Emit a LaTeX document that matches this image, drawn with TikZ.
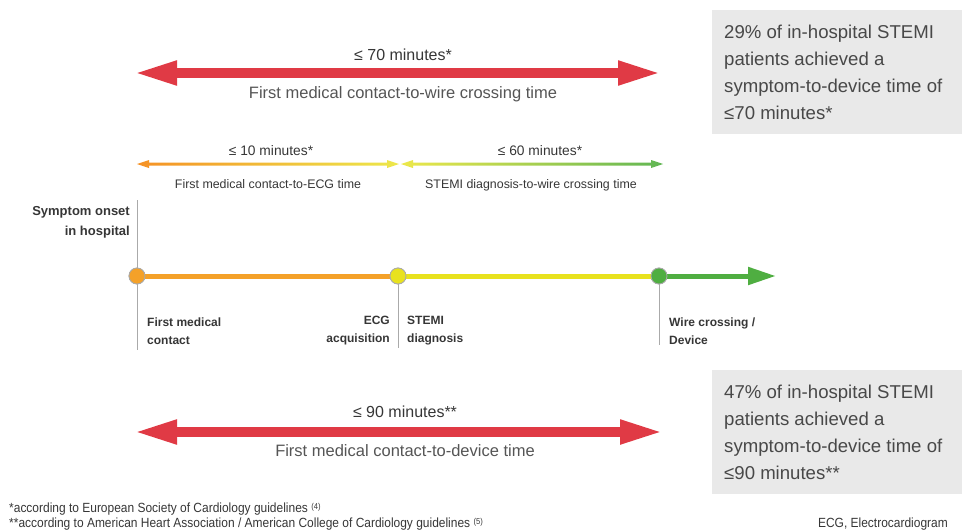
\documentclass[tikz,border=0pt]{standalone}
\usepackage{fontspec}
\setmainfont{Liberation Sans}
\newfontfamily\narrowfont[FakeStretch=0.9]{Liberation Sans}
\usetikzlibrary{arrows.meta, positioning, calc}

\definecolor{stemired}{HTML}{E03A45}
\definecolor{fmcorange}{HTML}{F4A129}
\definecolor{ecgyellow}{HTML}{E8E21E}
\definecolor{wiregreen}{HTML}{4FAE41}
\definecolor{textdark}{HTML}{363636}
\definecolor{textmid}{HTML}{555555}
\definecolor{tickgray}{HTML}{AAAAAA}
\definecolor{boxgray}{HTML}{E9E9E9}

\begin{document}
\begin{tikzpicture}[x=1pt, y=-1pt,
		txt/.style={inner sep=0pt, text=textdark},
		bigarrow/.style={draw=stemired, line width=10pt,
			arrows={Triangle[length=44pt,width=22pt]-Triangle[length=44pt,width=22pt]}},
		tick/.style={draw=tickgray, line width=1pt},
		event/.style={circle, draw=tickgray, line width=0.8pt, minimum size=16pt, inner sep=0pt},
		evlabel/.style={txt, font=\fontsize{12}{18}\selectfont\bfseries},
		statbox/.style={txt, text=textmid!85!black, align=left, anchor=north west, font=\fontsize{18.6}{27}\selectfont},
		note/.style={inner sep=0pt, text=textdark, anchor=base west, font=\narrowfont\fontsize{13.3}{14}\selectfont}]
	
	\useasboundingbox (0,0) rectangle (962,530);
	
	% Caixas de resultado
	\fill[boxgray] (712,10) rectangle (962,134);
	\fill[boxgray] (712,370) rectangle (962,494);
	\node[statbox] (stat70) at (724,25) {29\% of in-hospital STEMI\\patients achieved a\\symptom-to-device time of\\≤70 minutes*};
	\node[statbox] (stat90) at (724,385) {47\% of in-hospital STEMI\\patients achieved a\\symptom-to-device time of\\≤90 minutes**};
	
	% Seta superior (FMC -> wire)
	\coordinate (top_l) at (133,73);
	\coordinate (top_r) at (662,73);
	\draw[bigarrow] (top_l) -- (top_r);
	\node[txt, font=\fontsize{16}{18}\selectfont] (t70) at (403,55) {≤ 70 minutes*};
	\node[txt, text=textmid, font=\fontsize{16.5}{18}\selectfont] (t70_s) at (403,94) {First medical contact-to-wire crossing time};
	
	% Setas intermediárias (gradiente)
	\coordinate (mid_l) at (137,164);
	\coordinate (mid_m) at (399,164);
	\coordinate (mid_n) at (401,164);
	\coordinate (mid_r) at (663,164);
	\shade[left color=fmcorange!90!red, right color=ecgyellow!80!white]
		(mid_l) -- ++(12,-4) -- ++(0,2.5) -- ($(mid_m)+(-12,-1.5)$) -- ++(0,-2.5) -- (mid_m)
		-- ++(-12,4) -- ++(0,-2.5) -- ($(mid_l)+(12,1.5)$) -- ++(0,2.5) -- cycle;
	\shade[left color=ecgyellow!80!white, right color=wiregreen!90!white]
		(mid_n) -- ++(12,-4) -- ++(0,2.5) -- ($(mid_r)+(-12,-1.5)$) -- ++(0,-2.5) -- (mid_r)
		-- ++(-12,4) -- ++(0,-2.5) -- ($(mid_n)+(12,1.5)$) -- ++(0,2.5) -- cycle;
	\node[txt, font=\fontsize{13.8}{16}\selectfont] (t10) at (271,151) {≤ 10 minutes*};
	\node[txt, font=\fontsize{13.8}{16}\selectfont] (t60) at (540,151) {≤ 60 minutes*};
	\node[txt, font=\fontsize{12.4}{14}\selectfont] (t10_s) at (268,184) {First medical contact-to-ECG time};
	\node[txt, font=\fontsize{12.4}{14}\selectfont] (t60_s) at (531,185) {STEMI diagnosis-to-wire crossing time};
	
	% Linha do tempo
	\node[event, fill=fmcorange] (fmc) at (137,276) {};
	\node[event, fill=ecgyellow] (ecg) at (398,276) {};
	\node[event, fill=wiregreen] (wire) at (659,276) {};
	\coordinate (tl_end) at (776,276);
	\coordinate (onset_top) at (137,200);
	\coordinate (fmc_bot) at (137,350);
	\coordinate (ecg_bot) at (398,348);
	\coordinate (wire_bot) at (659,345);
	
	\draw[tick] (onset_top) -- (fmc_bot);
	\draw[tick] (ecg) -- (ecg_bot);
	\draw[tick] (wire) -- (wire_bot);
	\draw[fmcorange, line width=5pt] (fmc) -- (ecg);
	\draw[ecgyellow, line width=5pt] (ecg) -- (wire);
	\draw[wiregreen, line width=5pt, -{Triangle[length=28pt,width=17pt]}] (wire) -- (tl_end);
	\node[event, fill=fmcorange] at (fmc) {};
	\node[event, fill=ecgyellow] at (ecg) {};
	\node[event, fill=wiregreen] at (wire) {};
	
	% Rótulos dos eventos
	\node[evlabel, font=\fontsize{13}{20}\selectfont\bfseries, align=right, anchor=east] (onset) at (130,222) {Symptom onset\\in hospital};
	\node[evlabel, align=left, anchor=west] (fmc_l) at (147,331) {First medical\\contact};
	\node[evlabel, align=right, anchor=east] (ecg_l) at (390,331) {ECG\\acquisition};
	\node[evlabel, align=left, anchor=west] (stemi_l) at (407,331) {STEMI\\diagnosis};
	\node[evlabel, align=left, anchor=west] (wire_l) at (669,331) {Wire crossing /\\Device};
	
	% Seta inferior (FMC -> device)
	\coordinate (bot_l) at (133,432);
	\coordinate (bot_r) at (664,432);
	\draw[bigarrow] (bot_l) -- (bot_r);
	\node[txt, font=\fontsize{16}{18}\selectfont] (t90) at (405,412) {≤ 90 minutes**};
	\node[txt, text=textmid, font=\fontsize{16.5}{18}\selectfont] (t90_s) at (405,451) {First medical contact-to-device time};
	
	% Notas de rodapé
	\node[note] (note1) at (9,512) {*according to European Society of Cardiology guidelines \raisebox{2.5pt}{\fontsize{8.5}{9}\selectfont(4)}};
	\node[note] (note2) at (9,527) {**according to American Heart Association / American College of Cardiology guidelines \raisebox{2.5pt}{\fontsize{8.5}{9}\selectfont(5)}};
	\node[note, anchor=base east] (abbr) at (948,527) {ECG, Electrocardiogram};
\end{tikzpicture}
\end{document}
